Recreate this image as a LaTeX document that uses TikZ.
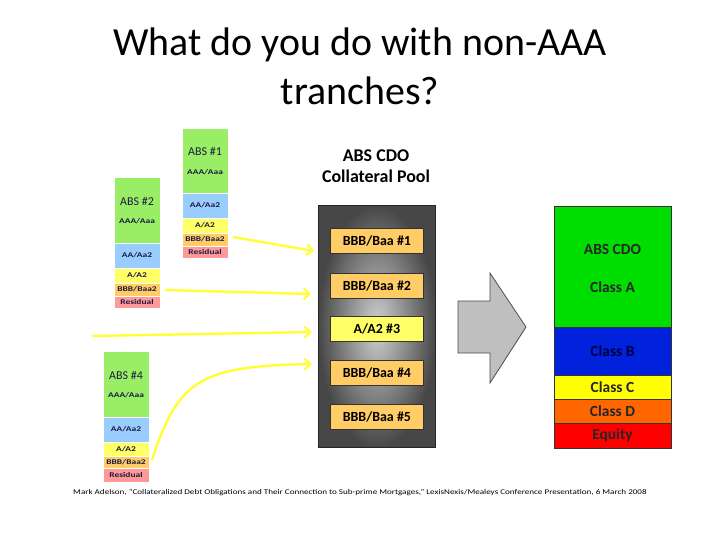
\documentclass[tikz,border=0pt]{standalone}
\usepackage{fontspec}
\setmainfont{Carlito}
\newfontfamily\widefont[FakeStretch=1.3]{Carlito}
\newfontfamily\footfont[FakeStretch=1.25]{Carlito}
\usetikzlibrary{arrows.meta}
\definecolor{sgreen}{HTML}{99EE66}
\definecolor{sblue}{HTML}{99CCFF}
\definecolor{syellow}{HTML}{FFFF66}
\definecolor{sorange}{HTML}{FFCC66}
\definecolor{sred}{HTML}{FF9999}
\definecolor{stext}{HTML}{1A1A40}
\definecolor{cgreen}{HTML}{00DD00}
\definecolor{cblue}{HTML}{0022DD}
\definecolor{cyellow}{HTML}{FFFF00}
\definecolor{corange}{HTML}{FF6600}
\definecolor{cred}{HTML}{FF0000}
\definecolor{ayellow}{HTML}{FFFF33}
\definecolor{poolbox}{HTML}{FFCC66}
\definecolor{poolyel}{HTML}{FFFF66}
\begin{document}
\begin{tikzpicture}[x=1bp,y=-1bp,
  band/.style={rectangle,draw=white,line width=0.6bp,inner sep=0pt,outer sep=0pt,anchor=north west,minimum width=46bp},
  stxt/.style={font=\widefont\fontsize{7.3}{8}\selectfont\bfseries,text=stext,inner sep=0pt},
  sbig/.style={font=\fontsize{12}{13}\selectfont,text=stext,inner sep=0pt},
  feed/.style={draw=ayellow,line width=2.4bp,-{Straight Barb[length=6bp,width=11bp,line width=2bp]}},
  pbox/.style={rectangle,draw=black!80,line width=0.8bp,fill=poolbox,minimum width=93bp,minimum height=25bp,inner sep=0pt,anchor=north west,font=\fontsize{14}{15}\selectfont\bfseries},
  cband/.style={rectangle,draw=black!80,line width=0.8bp,inner sep=0pt,outer sep=0pt,anchor=north west,minimum width=117bp,font=\fontsize{15.5}{16}\selectfont\bfseries,text=black!85}
]
\useasboundingbox (0,0) rectangle (720,540);
\fill[white] (0,0) rectangle (720,540);

% Title
\node[font=\fontsize{40}{48}\selectfont,anchor=base,inner sep=0pt] (t1) at (360,56) {What do you do with non-AAA};
\node[font=\fontsize{40}{48}\selectfont,anchor=base,inner sep=0pt] (t2) at (360,105) {tranches?};

% ABS #1
\node[band,fill=sgreen,minimum height=65bp] (g1) at (182,128) {};
\node[band,fill=sblue,minimum height=25bp] (b1) at (182,193) {};
\node[band,fill=syellow,minimum height=15bp] (y1) at (182,218) {};
\node[band,fill=sorange,minimum height=13bp] (o1) at (182,233) {};
\node[band,fill=sred,minimum height=12bp] (r1) at (182,246) {};
\node[sbig] (g1a) at (205,152) {ABS \#1};
\node[stxt] (g1b) at (205,172) {AAA/Aaa};
\node[stxt] (b1a) at (b1) {AA/Aa2};
\node[stxt] (y1a) at (y1) {A/A2};
\node[stxt] (o1a) at (o1) {BBB/Baa2};
\node[stxt] (r1a) at (r1) {Residual};

% ABS #2
\node[band,fill=sgreen,minimum height=66bp] (g2) at (114,177) {};
\node[band,fill=sblue,minimum height=25bp] (b2) at (114,243) {};
\node[band,fill=syellow,minimum height=15bp] (y2) at (114,268) {};
\node[band,fill=sorange,minimum height=13bp] (o2) at (114,283) {};
\node[band,fill=sred,minimum height=12bp] (r2) at (114,296) {};
\node[sbig] (g2a) at (137,202) {ABS \#2};
\node[stxt] (g2b) at (137,221) {AAA/Aaa};
\node[stxt] (b2a) at (b2) {AA/Aa2};
\node[stxt] (y2a) at (y2) {A/A2};
\node[stxt] (o2a) at (o2) {BBB/Baa2};
\node[stxt] (r2a) at (r2) {Residual};

% ABS #4
\node[band,fill=sgreen,minimum height=66bp] (g4) at (103,351) {};
\node[band,fill=sblue,minimum height=25bp] (b4) at (103,417) {};
\node[band,fill=syellow,minimum height=14bp] (y4) at (103,442) {};
\node[band,fill=sorange,minimum height=12bp] (o4) at (103,456) {};
\node[band,fill=sred,minimum height=14bp] (r4) at (103,468) {};
\node[sbig] (g4a) at (126,376) {ABS \#4};
\node[stxt] (g4b) at (126,395) {AAA/Aaa};
\node[stxt] (b4a) at (b4) {AA/Aa2};
\node[stxt] (y4a) at (y4) {A/A2};
\node[stxt] (o4a) at (o4) {BBB/Baa2};
\node[stxt] (r4a) at (r4) {Residual};

% Pool heading
\node[font=\fontsize{18}{21}\selectfont\bfseries,align=center,inner sep=0pt] (ph) at (376,166) {ABS CDO\\Collateral Pool};

% Pool
\node[rectangle,draw=black!85,line width=0.8bp,minimum width=117bp,minimum height=242bp,inner sep=0pt,anchor=north west,
      inner color=black!18,outer color=black!72] (pool) at (318,205) {};
\node[pbox] (p1) at (330,228) {BBB/Baa \#1};
\node[pbox] (p2) at (330,273) {BBB/Baa \#2};
\node[pbox,fill=poolyel] (p3) at (330,316) {A/A2 \#3};
\node[pbox] (p4) at (330,360) {BBB/Baa \#4};
\node[pbox] (p5) at (330,404) {BBB/Baa \#5};

% feed arrows
\coordinate (s1) at (233,237);
\coordinate (e1) at (314,251);
\coordinate (s2) at (165,290);
\coordinate (e2) at (311,294);
\coordinate (s3) at (92,336);
\coordinate (e3) at (312,332);
\coordinate (s4) at (152,460);
\coordinate (e4) at (312,364);
\draw[feed] (s1) -- (e1);
\draw[feed] (s2) -- (e2);
\draw[feed] (s3) -- (e3);
\draw[feed] (s4) .. controls (178,380) and (200,366) .. (e4);

% big arrow
\draw[draw=black!70,line width=0.8bp,fill=black!25] (458,301) -- (490,301) -- (490,273) -- (526,327) -- (490,383) -- (490,353) -- (458,353) -- cycle;

% CDO stack
\node[cband,fill=cgreen,minimum height=121bp] (ca) at (554,206) {};
\node[cband,fill=cblue,minimum height=48bp] (cb) at (554,327) {\textcolor{black!75!blue}{Class B}};
\node[cband,fill=cyellow,minimum height=24bp] (cc) at (554,375) {Class C};
\node[cband,fill=corange,minimum height=24bp] (cd) at (554,399) {Class D};
\node[cband,fill=cred,minimum height=25bp] (ce) at (554,423) {Equity};
\node[font=\fontsize{15.5}{16}\selectfont\bfseries,text=black!85,inner sep=0pt] (caa) at (612.5,249) {ABS CDO};
\node[font=\fontsize{15.5}{16}\selectfont\bfseries,text=black!85,inner sep=0pt] (cab) at (612.5,287) {Class A};

% footer
\node[font=\footfont\fontsize{7.3}{8}\selectfont,inner sep=0pt] (foot) at (360,492) {Mark Adelson, “Collateralized Debt Obligations and Their Connection to Sub-prime Mortgages,” LexisNexis/Mealeys Conference Presentation, 6 March 2008};
\end{tikzpicture}
\end{document}
